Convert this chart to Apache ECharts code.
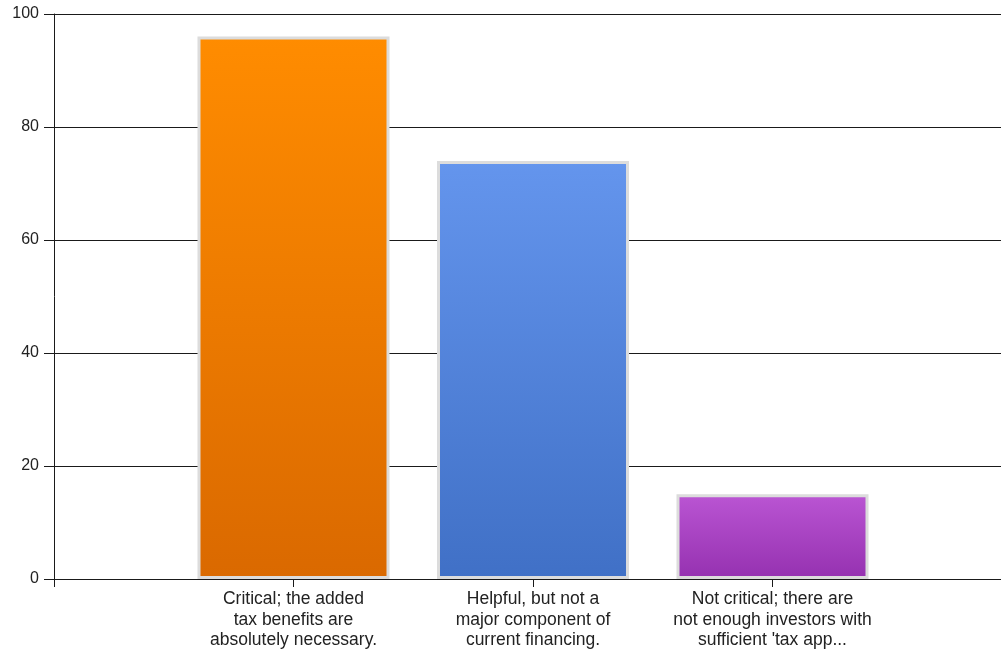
<!DOCTYPE html>
<html>
<head>
<meta charset="utf-8">
<script src="https://cdn.jsdelivr.net/npm/echarts@6/dist/echarts.min.js"></script>
<style>
html,body{margin:0;padding:0;background:#fff;}
#c{width:1001px;height:653px;}
</style>
</head>
<body>
<div id="c"></div>
<script>
// Categories (empty slots at both ends of the axis)
var categories = ['', 'Critical; the added\ntax benefits are\nabsolutely necessary.', 'Helpful, but not a\nmajor component of\ncurrent financing.', 'Not critical; there are\nnot enough investors with\nsufficient \'tax app...', ''];
var values = [null, 96, 74, 15, null];
var yTicks = [0, 20, 40, 60, 80, 100];
var topColors = [null, '#FF8C00', '#6495ED', '#BA55D3', null];
var bottomColors = [null, '#DA6900', '#4070C6', '#9531B0', null];

var chart = echarts.init(document.getElementById('c'), null, {renderer: 'canvas'});
var seriesData = values.map(function (v, i) {
  if (v === null) return null;
  return {
    value: v,
    itemStyle: {
      color: new echarts.graphic.LinearGradient(0, 0, 0, 1, [
        {offset: 0, color: topColors[i]},
        {offset: 1, color: bottomColors[i]}
      ]),
      borderColor: '#dcdcdc',
      borderWidth: 3
    }
  };
});

chart.setOption({
  animation: false,
  backgroundColor: '#fff',
  grid: {left: 54, width: 958, top: 14, height: 565, containLabel: false, outerBoundsMode: 'none'},
  xAxis: {
    type: 'category',
    data: categories,
    boundaryGap: false,
    axisLine: {show: true, lineStyle: {color: '#1a1a1a', width: 1}},
    axisTick: {show: true, length: 8, lineStyle: {color: '#1a1a1a'}},
    axisLabel: {
      interval: 0,
      margin: 10,
      color: '#222',
      fontFamily: 'Liberation Sans, Arial, sans-serif',
      fontSize: 17.5,
      lineHeight: 20.5,
      align: 'center'
    },
    splitLine: {show: false}
  },
  yAxis: {
    type: 'value',
    min: yTicks[0],
    max: yTicks[yTicks.length - 1],
    interval: 20,
    axisLine: {show: true, lineStyle: {color: '#1a1a1a', width: 1}},
    axisTick: {show: true, length: 10, lineStyle: {color: '#1a1a1a'}},
    axisLabel: {
      margin: 15,
      color: '#222',
      fontFamily: 'Liberation Sans, Arial, sans-serif',
      fontSize: 16
    },
    splitLine: {show: true, lineStyle: {color: '#1a1a1a', width: 1}}
  },
  series: [{
    type: 'bar',
    data: seriesData,
    barWidth: 192
  }]
});
</script>
</body>
</html>
